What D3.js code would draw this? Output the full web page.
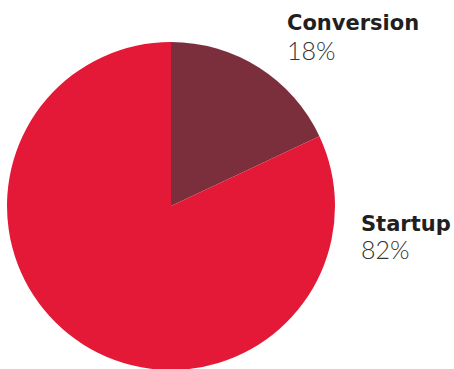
<!DOCTYPE html>
<html><head><meta charset="utf-8">
<script src="https://cdn.jsdelivr.net/npm/d3@7"></script>
<style>body{margin:0;background:#fff}svg{display:block}</style>
</head><body>
<svg id="c" width="454" height="369"></svg>
<script>
const categories = ["Conversion", "Startup"];
const values = [18, 82];
const labels = ["18%", "82%"];
const colors = ["#7B2F3D", "#E31937"];

const svg = d3.select("#c");
const cx = 171, cy = 206, r = 164;
const g = svg.append("g").attr("transform", `translate(${cx},${cy})`);
const pie = d3.pie().sort(null).value(d => d)(values);
const arc = d3.arc().innerRadius(0).outerRadius(r);
g.selectAll("path").data(pie).enter().append("path")
  .attr("d", arc).attr("fill", (d, i) => colors[i]);

const labelPos = [[287, 30, 60], [361, 231, 259]];
categories.forEach((c, i) => {
  const [x, y1, y2] = labelPos[i];
  svg.append("text").attr("x", x).attr("y", y1).text(c)
    .attr("font-family", "DejaVu Sans").attr("font-weight", "bold")
    .attr("font-size", 21).attr("fill", "#231F20");
  svg.append("text").attr("x", x).attr("y", y2).text(labels[i])
    .attr("font-family", "Lato").attr("font-weight", 300)
    .attr("font-size", 25).attr("fill", "#333");
});
</script>
</body></html>
